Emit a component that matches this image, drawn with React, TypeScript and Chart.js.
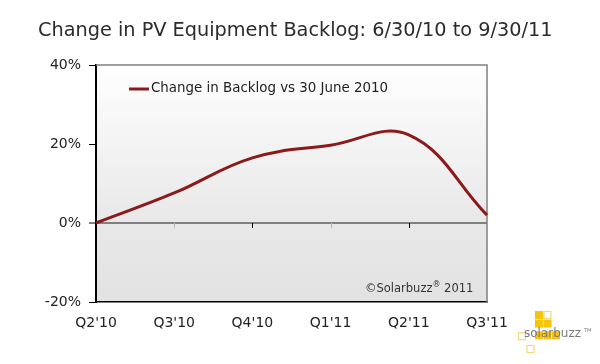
import React, { useEffect, useRef } from "react";
import { Chart, registerables } from "chart.js";

Chart.register(...registerables);

const TITLE = "Change in PV Equipment Backlog: 6/30/10 to 9/30/11";
const QUARTERS = ["Q2'10", "Q3'10", "Q4'10", "Q1'11", "Q2'11", "Q3'11"];
const BACKLOG_CHANGE = [0, 7.6, 16.5, 19.7, 22.3, 2];
const SERIES_LABEL = "Change in Backlog vs 30 June 2010";
const Y_MIN = -20;
const Y_MAX = 40;
const Y_STEP = 20;
const COPYRIGHT_PARTS = ["\u00A9Solarbuzz", "\u00AE", " 2011"];
const LOGO_TEXT = "solarbuzz";

const FONT = "'DejaVu Sans', Verdana, sans-serif";
const LINE_COLOR = "#8b1a1a";

const decorPlugin = {
  id: "decor",
  beforeDraw(chart: any) {
    const { ctx, chartArea } = chart;
    const { left, top, right, bottom } = chartArea;
    const y0 = chart.scales.y.getPixelForValue(0);
    const g = ctx.createLinearGradient(0, top, 0, bottom);
    g.addColorStop(0, "#ffffff");
    g.addColorStop((y0 - top) / (bottom - top), "#e8e8e8");
    g.addColorStop(1, "#e2e2e2");
    ctx.save();
    ctx.fillStyle = g;
    ctx.fillRect(left, top, right - left, bottom - top);
    ctx.restore();
  },
  beforeDatasetsDraw(chart: any) {
    const { ctx, chartArea, scales } = chart;
    const { left, top, right, bottom } = chartArea;
    ctx.save();
    ctx.strokeStyle = "#808080";
    ctx.lineWidth = 1.5;
    ctx.beginPath();
    ctx.moveTo(left, top);
    ctx.lineTo(right, top);
    ctx.lineTo(right, bottom);
    ctx.stroke();
    const y0 = scales.y.getPixelForValue(0);
    for (let i = 1; i < QUARTERS.length - 1; i++) {
      const x = Math.round(scales.x.getPixelForValue(i)) + 0.5;
      ctx.strokeStyle = i % 2 === 1 ? "#b8b8b8" : "#000000";
      ctx.lineWidth = 1;
      ctx.beginPath();
      ctx.moveTo(x, y0);
      ctx.lineTo(x, y0 + 5);
      ctx.stroke();
    }
    ctx.restore();
  },
  afterDraw(chart: any) {
    const { ctx, chartArea } = chart;
    const { left, top, right, bottom } = chartArea;
    ctx.save();
    // title
    ctx.fillStyle = "#2b2b2b";
    ctx.font = `19.3px ${FONT}`;
    ctx.textAlign = "left";
    ctx.textBaseline = "alphabetic";
    ctx.fillText(TITLE, 38, 36);

    // legend
    ctx.strokeStyle = LINE_COLOR;
    ctx.lineWidth = 3;
    ctx.beginPath();
    ctx.moveTo(left + 33, top + 24);
    ctx.lineTo(left + 53, top + 24);
    ctx.stroke();
    ctx.fillStyle = "#222222";
    ctx.font = `13.4px ${FONT}`;
    ctx.textBaseline = "middle";
    ctx.fillText(SERIES_LABEL, left + 55, top + 24);

    // copyright
    ctx.fillStyle = "#333333";
    ctx.textBaseline = "alphabetic";
    let cx = right - 122;
    const cy = bottom - 10;
    ctx.font = `11.5px ${FONT}`;
    ctx.fillText(COPYRIGHT_PARTS[0], cx, cy);
    cx += ctx.measureText(COPYRIGHT_PARTS[0]).width;
    ctx.font = `8px ${FONT}`;
    ctx.fillText(COPYRIGHT_PARTS[1], cx, cy - 5);
    cx += ctx.measureText(COPYRIGHT_PARTS[1]).width;
    ctx.font = `11.5px ${FONT}`;
    ctx.fillText(COPYRIGHT_PARTS[2], cx, cy);

    // logo
    const s = 8.5;
    const ox = 518;
    const oy = 311;
    const filled: [number, number][] = [
      [2, 0], [2, 1], [3, 1], [2, 2.4], [3, 2.4], [4, 2.4],
    ];
    const outlined: [number, number][] = [[3, 0], [0, 2.5], [1, 4]];
    ctx.fillStyle = "#f6c40a";
    filled.forEach(([c, r]) => ctx.fillRect(ox + c * s, oy + r * s, s - 0.5, s - 0.5));
    ctx.strokeStyle = "#f3d77a";
    ctx.lineWidth = 1.2;
    outlined.forEach(([c, r]) => ctx.strokeRect(ox + c * s + 0.5, oy + r * s + 0.5, s - 1.5, s - 1.5));
    ctx.fillStyle = "#7a7a7a";
    ctx.font = `12px ${FONT}`;
    ctx.textBaseline = "alphabetic";
    ctx.fillText(LOGO_TEXT, 524, 337);
    ctx.font = `5px ${FONT}`;
    ctx.fillText("TM", 584, 332);
    ctx.restore();
  },
};

export default function App() {
  const ref = useRef<HTMLCanvasElement | null>(null);

  useEffect(() => {
    if (!ref.current) return;
    const chart = new Chart(ref.current, {
      type: "line",
      data: {
        labels: QUARTERS,
        datasets: [
          {
            label: SERIES_LABEL,
            data: BACKLOG_CHANGE,
            borderColor: LINE_COLOR,
            borderWidth: 3,
            pointRadius: 0,
            tension: 0.4,
            fill: false,
          },
        ],
      },
      options: {
        animation: false,
        responsive: false,
        devicePixelRatio: 1,
        layout: { padding: { top: 65, right: 113, bottom: 0, left: 0 } },
        plugins: {
          legend: { display: false },
          title: { display: false },
          tooltip: { enabled: false },
        },
        scales: {
          x: {
            offset: false,
            grid: { display: false, drawTicks: false },
            border: { display: true, color: "#000000", width: 1.5 },
            ticks: {
              color: "#222222",
              font: { family: FONT, size: 14 },
              padding: 13,
              maxRotation: 0,
              autoSkip: false,
            },
            afterFit: (scale: any) => {
              scale.height = 62;
            },
          },
          y: {
            min: Y_MIN,
            max: Y_MAX,
            grid: {
              display: true,
              drawOnChartArea: true,
              drawTicks: true,
              tickLength: 7,
              tickColor: "#000000",
              tickWidth: 1,
              color: (c: any) => (c.tick && c.tick.value === 0 ? "#808080" : "rgba(0,0,0,0)"),
              lineWidth: (c: any) => (c.tick && c.tick.value === 0 ? 2 : 1),
            },
            border: { display: true, color: "#000000", width: 2 },
            ticks: {
              stepSize: Y_STEP,
              color: "#222222",
              font: { family: FONT, size: 14 },
              padding: 8,
              callback: (v: any) => `${v}%`,
            },
            afterFit: (scale: any) => {
              scale.width = 96;
            },
          },
        },
      },
      plugins: [decorPlugin],
    });
    return () => chart.destroy();
  }, []);

  return (
    <div style={{ position: "fixed", left: 0, top: 0, width: 600, height: 364, background: "#ffffff" }}>
      <canvas ref={ref} width={600} height={364} style={{ display: "block" }} />
    </div>
  );
}
